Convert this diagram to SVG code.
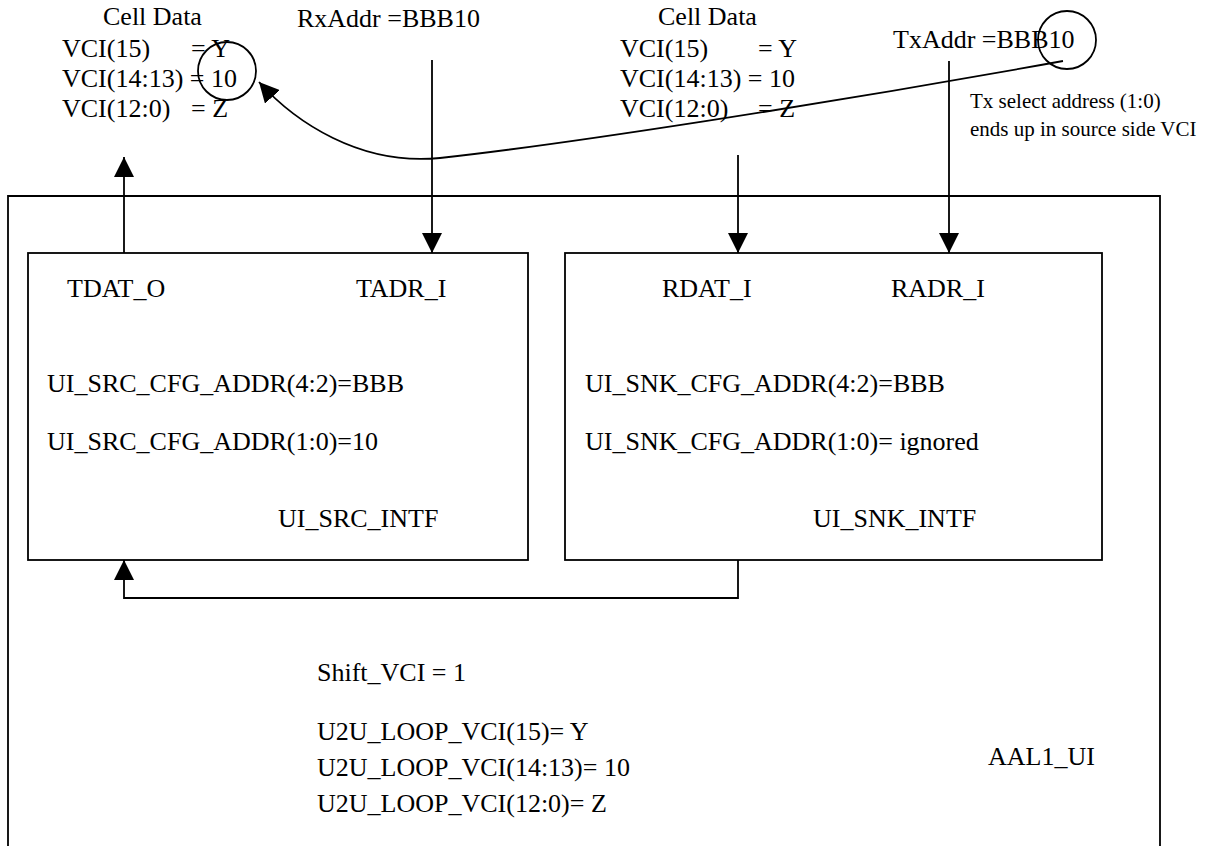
<svg xmlns="http://www.w3.org/2000/svg" width="1206" height="846" viewBox="0 0 1206 846">
<style>
text{font-family:"Liberation Serif","Times New Roman",serif;font-size:26px;fill:#000}
.note{font-size:21px}
.box{fill:none;stroke:#000;stroke-width:1.8}
.ln{fill:none;stroke:#000;stroke-width:1.8}
</style>
<defs>
<marker id="ah" viewBox="0 0 20 20" refX="20" refY="10" markerWidth="20" markerHeight="20" markerUnits="userSpaceOnUse" orient="auto">
<path d="M0,0 L20,10 L0,20 z" fill="#000"/>
</marker>
</defs>
<rect width="1206" height="846" fill="#fff"/>
<g id="aal1_ui">
<path class="box" d="M8,850 L8,196 L1160,196 L1160,850"/>
<text x="988" y="765">AAL1_UI</text>
<text x="317" y="681">Shift_VCI = 1</text>
<text x="317" y="740">U2U_LOOP_VCI(15)= Y</text>
<text x="317" y="776">U2U_LOOP_VCI(14:13)= 10</text>
<text x="317" y="812">U2U_LOOP_VCI(12:0)= Z</text>
</g>
<g id="ui_src_intf">
<rect class="box" x="28" y="253" width="500" height="307"/>
<text x="67" y="297">TDAT_O</text>
<text x="356" y="297">TADR_I</text>
<text x="47" y="392">UI_SRC_CFG_ADDR(4:2)=BBB</text>
<text x="47" y="450">UI_SRC_CFG_ADDR(1:0)=10</text>
<text x="278" y="527">UI_SRC_INTF</text>
</g>
<g id="ui_snk_intf">
<rect class="box" x="565" y="253" width="537" height="307"/>
<text x="662" y="297">RDAT_I</text>
<text x="891" y="297">RADR_I</text>
<text x="585" y="392">UI_SNK_CFG_ADDR(4:2)=BBB</text>
<text x="585" y="450">UI_SNK_CFG_ADDR(1:0)= ignored</text>
<text x="813" y="527">UI_SNK_INTF</text>
</g>
<g id="src_cell_data">
<text x="103" y="25">Cell Data</text>
<text x="62" y="57">VCI(15)</text>
<text x="191" y="57">= Y</text>
<text x="62" y="87">VCI(14:13) = 10</text>
<text x="62" y="117">VCI(12:0)</text>
<text x="191" y="117">= Z</text>
<circle class="ln" cx="227" cy="71" r="29"/>
</g>
<g id="rx_addr">
<text x="297" y="27">RxAddr =BBB10</text>
</g>
<g id="snk_cell_data">
<text x="658" y="25">Cell Data</text>
<text x="620" y="57">VCI(15)</text>
<text x="758" y="57">= Y</text>
<text x="620" y="87">VCI(14:13) = 10</text>
<text x="620" y="117">VCI(12:0)</text>
<text x="758" y="117">= Z</text>
</g>
<g id="tx_addr">
<text x="893" y="48">TxAddr =BBB10</text>
<circle class="ln" cx="1067" cy="40" r="29"/>
<text class="note" x="970" y="108">Tx select address (1:0)</text>
<text class="note" x="970" y="136">ends up in source side VCI</text>
</g>
<g id="connectors">
<path class="ln" d="M124,253 L124,157" marker-end="url(#ah)"/>
<path class="ln" d="M432,60 L432,253" marker-end="url(#ah)"/>
<path class="ln" d="M738,155 L738,253" marker-end="url(#ah)"/>
<path class="ln" d="M949,61 L949,253" marker-end="url(#ah)"/>
<path class="ln" d="M738,560 L738,598 L124,598 L124,560" marker-end="url(#ah)"/>
<path class="ln" d="M1063,61 C820,105 560,145 440,158 C360,166 295,122 259,82" marker-end="url(#ah)"/>
</g>
</svg>
